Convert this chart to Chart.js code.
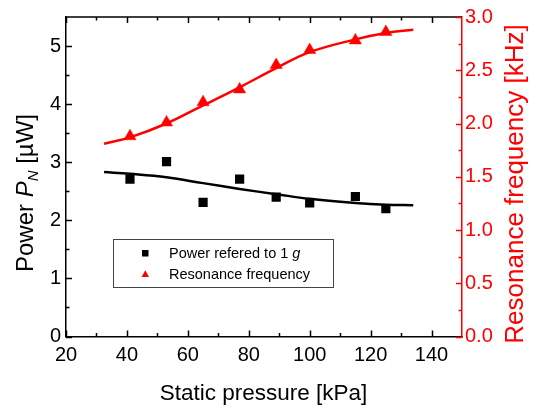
<!DOCTYPE html>
<html><head><meta charset="utf-8">
<script src="https://cdn.jsdelivr.net/npm/chart.js@4/dist/chart.umd.min.js"></script>
<style>html,body{margin:0;padding:0;background:#fff}#wrap{width:535px;height:409px;position:relative}</style>
</head><body><div id="wrap"><canvas id="c" width="535" height="409" style="width:535px;height:409px"></canvas></div>
<script>
// ---- data ----
const pressure = [41, 53, 65, 77, 89, 100, 115, 125];               // kPa
const power = [2.71, 3.01, 2.31, 2.71, 2.40, 2.30, 2.41, 2.20];     // µW
const frequency = [1.88, 2.01, 2.20, 2.32, 2.55, 2.69, 2.78, 2.86]; // kHz
const fitPressure = [32.5, 41, 53, 65, 77, 89, 100, 115, 125, 134];
const powerFit = [2.83, 2.80, 2.74, 2.64, 2.54, 2.45, 2.37, 2.30, 2.27, 2.26];
const frequencyFit = [1.81, 1.87, 2.00, 2.17, 2.34, 2.52, 2.67, 2.79, 2.85, 2.88];
const xTicks = [20, 40, 60, 80, 100, 120, 140];
const xMinorTicks = [30, 50, 70, 90, 110, 130];
const powerTicks = [0, 1, 2, 3, 4, 5];
const powerMinorTicks = [0.5, 1.5, 2.5, 3.5, 4.5];
const freqTicks = [0, 0.5, 1.0, 1.5, 2.0, 2.5, 3.0];
const freqMinorTicks = [0.25, 0.75, 1.25, 1.75, 2.25, 2.75];
const legendLabels = ['Power refered to 1 ', 'g', 'Resonance frequency'];

const RED = '#ff0000';
const FAM = "'Liberation Sans', Arial, sans-serif";
Chart.defaults.font.family = FAM;

const toXY = (xs, ys) => xs.map((x, i) => ({ x, y: ys[i] }));

function richText(ctx, parts, cx, cy, rot, color) {
  ctx.save();
  ctx.translate(cx, cy);
  ctx.rotate(rot);
  ctx.fillStyle = color;
  ctx.textBaseline = 'alphabetic';
  ctx.textAlign = 'left';
  let total = 0;
  parts.forEach(p => { ctx.font = p.font; p.w = ctx.measureText(p.t).width; total += p.w; });
  let x = -total / 2;
  parts.forEach(p => { ctx.font = p.font; ctx.fillText(p.t, x, p.dy); x += p.w; });
  ctx.restore();
}

const decor = {
  id: 'decor',
  afterDraw(chart) {
    const { ctx, chartArea: a, scales } = chart;
    const xs = scales.x, yl = scales.y, yr = scales.y2;
    ctx.save();
    ctx.lineWidth = 1.5;
    ctx.strokeStyle = '#000';
    ctx.beginPath();
    ctx.moveTo(a.left, a.top); ctx.lineTo(a.right, a.top);
    const xt = (arr, len) => arr.forEach(v => {
      const p = Math.round(xs.getPixelForValue(v)) + 0.5;
      ctx.moveTo(p, a.bottom); ctx.lineTo(p, a.bottom - len);
      ctx.moveTo(p, a.top); ctx.lineTo(p, a.top + len);
    });
    xt(xTicks, 6); xt(xMinorTicks, 3.5);
    const ylt = (arr, len) => arr.forEach(v => {
      const p = Math.round(yl.getPixelForValue(v)) + 0.5;
      ctx.moveTo(a.left, p); ctx.lineTo(a.left + len, p);
    });
    ylt(powerTicks, 6); ylt(powerMinorTicks, 3.5);
    ctx.stroke();
    ctx.strokeStyle = RED;
    ctx.beginPath();
    const yrt = (arr, len) => arr.forEach(v => {
      const p = Math.round(yr.getPixelForValue(v)) + 0.5;
      ctx.moveTo(a.right, p); ctx.lineTo(a.right - len, p);
    });
    yrt(freqTicks, 6); yrt(freqMinorTicks, 3.5);
    ctx.stroke();

    // legend
    ctx.lineWidth = 1;
    ctx.strokeStyle = '#444';
    ctx.strokeRect(113.5, 239.5, 220, 48);
    ctx.fillStyle = '#000';
    ctx.fillRect(142, 250, 6.5, 6.5);
    ctx.fillStyle = RED;
    ctx.beginPath();
    ctx.moveTo(145.3, 270.3); ctx.lineTo(149, 277); ctx.lineTo(141.6, 277); ctx.closePath(); ctx.fill();
    ctx.fillStyle = '#000';
    ctx.textBaseline = 'middle';
    ctx.textAlign = 'left';
    ctx.font = '14.5px ' + FAM;
    ctx.fillText(legendLabels[0], 169, 253.5);
    const w0 = ctx.measureText(legendLabels[0]).width;
    ctx.font = 'italic 14.5px ' + FAM;
    ctx.fillText(legendLabels[1], 169 + w0, 253.5);
    ctx.font = '14.5px ' + FAM;
    ctx.fillText(legendLabels[2], 169, 274.5);
    ctx.restore();

    // axis titles
    richText(ctx, [
      { t: 'Static pressure [kPa]', font: '22.5px ' + FAM, dy: 8 }
    ], 263.5, 391.5, 0, '#000');
    richText(ctx, [
      { t: 'Power ', font: '24px ' + FAM, dy: 8.6 },
      { t: 'P', font: 'italic 24px ' + FAM, dy: 8.6 },
      { t: 'N', font: 'italic 15px ' + FAM, dy: 14 },
      { t: ' [\u00b5W]', font: '24px ' + FAM, dy: 8.6 }
    ], 24, 193, -Math.PI / 2, '#000');
    richText(ctx, [
      { t: 'Resonance frequency [kHz]', font: '26px ' + FAM, dy: 9.3 }
    ], 514, 184, -Math.PI / 2, RED);
  }
};

new Chart(document.getElementById('c'), {
  type: 'scatter',
  data: {
    datasets: [
      { label: 'Power fit', data: toXY(fitPressure, powerFit), yAxisID: 'y', showLine: true,
        borderColor: '#000', borderWidth: 2.5, pointRadius: 0, tension: 0.4, fill: false },
      { label: 'Frequency fit', data: toXY(fitPressure, frequencyFit), yAxisID: 'y2', showLine: true,
        borderColor: RED, borderWidth: 2.5, pointRadius: 0, tension: 0.4, fill: false },
      { label: 'Power refered to 1 g', data: toXY(pressure, power), yAxisID: 'y', pointStyle: 'rect',
        pointRadius: 6.5, backgroundColor: '#000', borderColor: '#000', borderWidth: 0 },
      { label: 'Resonance frequency', data: toXY(pressure, frequency), yAxisID: 'y2', pointStyle: 'triangle',
        pointRadius: 7, backgroundColor: RED, borderColor: RED, borderWidth: 0.5 }
    ]
  },
  options: {
    responsive: false,
    animation: false,
    devicePixelRatio: 1,
    layout: { padding: { top: 14, left: 0, right: 0, bottom: 0 } },
    plugins: { legend: { display: false }, tooltip: { enabled: false } },
    scales: {
      x: {
        type: 'linear', position: 'bottom', min: 20, max: 150,
        afterBuildTicks: s => { s.ticks = xTicks.map(v => ({ value: v })); },
        afterFit: s => { s.height = 72.5; },
        grid: { drawOnChartArea: false, drawTicks: false },
        border: { display: true, color: '#000', width: 1.5 },
        ticks: { color: '#000', font: { size: 20 }, padding: 7, maxRotation: 0, autoSkip: false }
      },
      y: {
        type: 'linear', position: 'left', min: 0, max: 5.5,
        afterBuildTicks: s => { s.ticks = powerTicks.map(v => ({ value: v })); },
        afterFit: s => { s.width = 66; },
        grid: { drawOnChartArea: false, drawTicks: false },
        border: { display: true, color: '#000', width: 1.5 },
        ticks: { color: '#000', font: { size: 20 }, padding: 5, autoSkip: false }
      },
      y2: {
        type: 'linear', position: 'right', min: 0, max: 3.0,
        afterBuildTicks: s => { s.ticks = freqTicks.map(v => ({ value: v })); },
        afterFit: s => { s.width = 73; },
        grid: { drawOnChartArea: false, drawTicks: false },
        border: { display: true, color: RED, width: 1.5 },
        ticks: { color: RED, font: { size: 20 }, padding: 3, autoSkip: false, callback: v => Number(v).toFixed(1) }
      }
    }
  },
  plugins: [decor]
});
</script>
</body></html>
